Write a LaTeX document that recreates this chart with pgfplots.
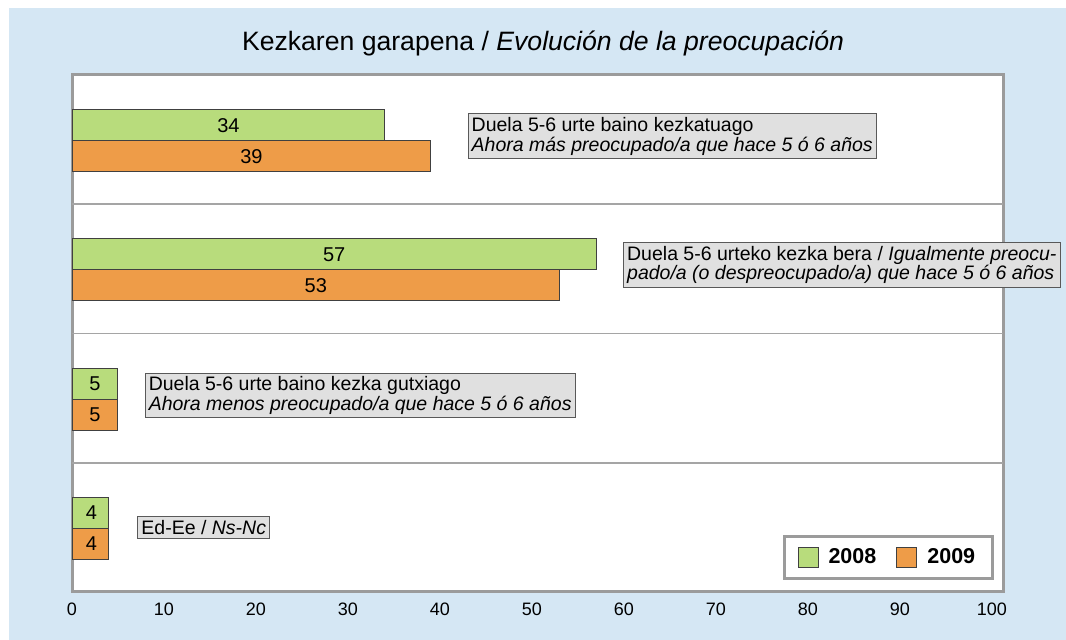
\documentclass[border=0pt]{standalone}
\usepackage{fontspec}
\setmainfont{Liberation Sans}
\usepackage{pgfplots}
\pgfplotsset{compat=1.18}
\definecolor{bg}{HTML}{D5E7F4}
\definecolor{green08}{HTML}{B8DC7C}
\definecolor{orange09}{HTML}{EE9C48}
\definecolor{frame}{HTML}{9B9B9B}
\definecolor{boxfill}{HTML}{E0E0E0}

\begin{document}
\begin{tikzpicture}[
  lbl/.style={draw=black!65, fill=boxfill, line width=0.5pt, inner xsep=1.8pt,
    inner ysep=1.8pt, anchor=west, align=left,
    font=\fontsize{9.75}{9.75}\selectfont},
  num/.style={font=\fontsize{10}{11}\selectfont}
]
  % background (1px = 0.5pt)
  \fill[white] (0,0) rectangle (533pt,320pt);
  \fill[bg] (4.5pt,0) rectangle (533pt,316pt);

  \node[font=\fontsize{13.3}{15}\selectfont] at (271.5pt,298.5pt)
    {Kezkaren garapena / \textit{Evolución de la preocupación}};

  \begin{axis}[
    at={(36pt,24pt)}, anchor=south west,
    scale only axis,
    width=465.5pt, height=258.5pt,
    xmin=0, xmax=101.2,
    ymin=0.5, ymax=4.5,
    xtick={0,10,...,100},
    ytick=\empty,
    major tick length=0pt,
    axis background/.style={fill=white},
    axis line style={draw=frame, line width=1.5pt},
    xticklabel style={font=\fontsize{9}{10}\selectfont, yshift=-2pt},
    /pgf/number format/assume math mode=true,
    xbar, bar width=15.5pt,
    clip=false,
    legend columns=2,
    legend style={
      at={(rel axis cs:0.99,0.024)}, anchor=south east,
      draw=frame, line width=1.5pt, fill=white,
      font=\bfseries\fontsize{10.75}{12}\selectfont,
      inner xsep=6.5pt, inner ysep=4pt,
      /tikz/every even column/.append style={column sep=8pt}
    },
    legend image code/.code={
      \draw[#1, line width=0.5pt] (0pt,-5pt) rectangle (10pt,5pt);
      \path (13pt,0pt);
    },
  ]
    % separators between groups
    \draw[frame!90, line width=0.8pt] (rel axis cs:0,0.25) -- (rel axis cs:1,0.25);
    \draw[frame!90, line width=0.8pt] (rel axis cs:0,0.5) -- (rel axis cs:1,0.5);
    \draw[frame!90, line width=0.8pt] (rel axis cs:0,0.75) -- (rel axis cs:1,0.75);

    \addplot[fill=green08, draw=black!75, line width=0.5pt, bar shift=7.25pt]
      coordinates {(34,4) (57,3) (5,2) (4,1)};
    \addplot[fill=orange09, draw=black!75, line width=0.5pt, bar shift=-8.25pt]
      coordinates {(39,4) (53,3) (5,2) (4,1)};
    \legend{2008,2009}

    % values inside bars
    \node[num, yshift=7.25pt] at (axis cs:17,4) {34};
    \node[num, yshift=-8.25pt] at (axis cs:19.5,4) {39};
    \node[num, yshift=7.25pt] at (axis cs:28.5,3) {57};
    \node[num, yshift=-8.25pt] at (axis cs:26.5,3) {53};
    \node[num, yshift=7.25pt] at (axis cs:2.5,2) {5};
    \node[num, yshift=-8.25pt] at (axis cs:2.5,2) {5};
    \node[num, yshift=7.25pt] at (axis cs:2.1,1) {4};
    \node[num, yshift=-8.25pt] at (axis cs:2.1,1) {4};

    % category labels
    \node[lbl] at (axis cs:43.0,4.025) {Duela 5-6 urte baino kezkatuago\\
      \textit{Ahora más preocupado/a que hace 5 ó 6 años}};
    \node[lbl] at (axis cs:59.9,3.03) {Duela 5-6 urteko kezka bera / \textit{Igualmente preocu-}\\
      \textit{pado/a (o despreocupado/a) que hace 5 ó 6 años}};
    \node[lbl] at (axis cs:7.9,2.02) {Duela 5-6 urte baino kezka gutxiago\\
      \textit{Ahora menos preocupado/a que hace 5 ó 6 años}};
    \node[lbl] at (axis cs:7.1,1.0) {Ed-Ee / \textit{Ns-Nc}};
  \end{axis}
\end{tikzpicture}
\end{document}
